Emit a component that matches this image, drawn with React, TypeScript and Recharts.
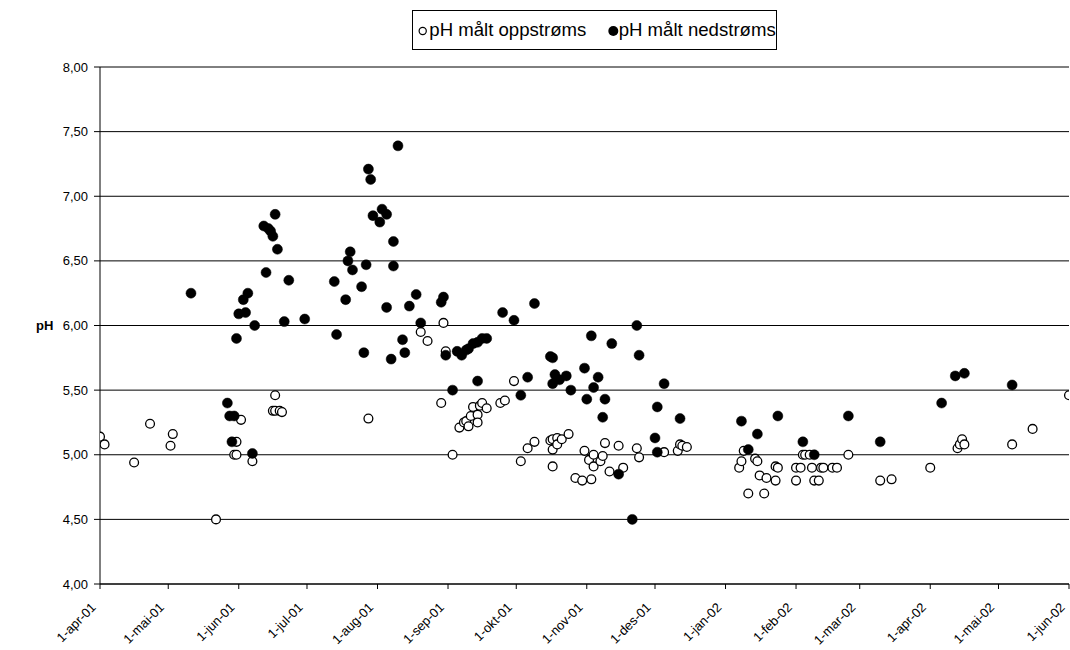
import React from 'react';
import { ScatterChart, Scatter, XAxis, YAxis, CartesianGrid } from 'recharts';

const upstreamDates = [
  '2001-04-01', '2001-04-03', '2001-04-16', '2001-04-23', '2001-05-02', '2001-05-03', '2001-05-22',
  '2001-05-30', '2001-05-31', '2001-05-31', '2001-06-02', '2001-06-07', '2001-06-16', '2001-06-17',
  '2001-06-17', '2001-06-19', '2001-06-20', '2001-07-28', '2001-08-20', '2001-08-23', '2001-08-29',
  '2001-08-30', '2001-08-31', '2001-09-03', '2001-09-06', '2001-09-08', '2001-09-09', '2001-09-10',
  '2001-09-11', '2001-09-12', '2001-09-14', '2001-09-14', '2001-09-15', '2001-09-16', '2001-09-18',
  '2001-09-24', '2001-09-26', '2001-09-30', '2001-10-03', '2001-10-06', '2001-10-09', '2001-10-16',
  '2001-10-17', '2001-10-17', '2001-10-17', '2001-10-19', '2001-10-19', '2001-10-21', '2001-10-24',
  '2001-10-27', '2001-10-30', '2001-10-31', '2001-11-02', '2001-11-03', '2001-11-04', '2001-11-04',
  '2001-11-07', '2001-11-08', '2001-11-09', '2001-11-11', '2001-11-15', '2001-11-17', '2001-11-23',
  '2001-11-24', '2001-12-05', '2001-12-11', '2001-12-12', '2001-12-13', '2001-12-15', '2002-01-07',
  '2002-01-08', '2002-01-09', '2002-01-11', '2002-01-14', '2002-01-15', '2002-01-16', '2002-01-18',
  '2002-01-19', '2002-01-23', '2002-01-23', '2002-01-24', '2002-02-01', '2002-02-01', '2002-02-03',
  '2002-02-04', '2002-02-05', '2002-02-07', '2002-02-08', '2002-02-09', '2002-02-11', '2002-02-12',
  '2002-02-13', '2002-02-17', '2002-02-19', '2002-02-24', '2002-03-10', '2002-03-15', '2002-04-01',
  '2002-04-13', '2002-04-14', '2002-04-15', '2002-04-16', '2002-05-07', '2002-05-16', '2002-06-01',
];
const upstreamPH = [
  5.14, 5.08, 4.94, 5.24, 5.07, 5.16, 4.5,
  5.0, 5.0, 5.1, 5.27, 4.95, 5.34, 5.46,
  5.34, 5.34, 5.33, 5.28, 5.95, 5.88, 5.4,
  6.02, 5.8, 5.0, 5.21, 5.25, 5.26, 5.22,
  5.3, 5.37, 5.31, 5.25, 5.38, 5.4, 5.36,
  5.4, 5.42, 5.57, 4.95, 5.05, 5.1, 5.11,
  4.91, 5.12, 5.04, 5.13, 5.08, 5.12, 5.16,
  4.82, 4.8, 5.03, 4.96, 4.81, 4.91, 5.0,
  4.95, 4.99, 5.09, 4.87, 5.07, 4.9, 5.05,
  4.98, 5.02, 5.03, 5.08, 5.07, 5.06, 4.9,
  4.95, 5.03, 4.7, 4.97, 4.95, 4.84, 4.7,
  4.82, 4.8, 4.91, 4.9, 4.8, 4.9, 4.9,
  5.0, 5.0, 5.0, 4.9, 4.8, 4.8, 4.9,
  4.9, 4.9, 4.9, 5.0, 4.8, 4.81, 4.9,
  5.05, 5.08, 5.12, 5.08, 5.08, 5.2, 5.46,
];

const downstreamDates = [
  '2001-05-11', '2001-05-27', '2001-05-28', '2001-05-29', '2001-05-30', '2001-05-31', '2001-06-01',
  '2001-06-03', '2001-06-04', '2001-06-05', '2001-06-07', '2001-06-08', '2001-06-12', '2001-06-13',
  '2001-06-14', '2001-06-15', '2001-06-16', '2001-06-17', '2001-06-18', '2001-06-21', '2001-06-23',
  '2001-06-30', '2001-07-13', '2001-07-14', '2001-07-18', '2001-07-19', '2001-07-20', '2001-07-21',
  '2001-07-25', '2001-07-26', '2001-07-27', '2001-07-28', '2001-07-29', '2001-07-30', '2001-08-02',
  '2001-08-03', '2001-08-05', '2001-08-05', '2001-08-07', '2001-08-08', '2001-08-08', '2001-08-10',
  '2001-08-12', '2001-08-13', '2001-08-15', '2001-08-18', '2001-08-20', '2001-08-29', '2001-08-30',
  '2001-08-31', '2001-09-03', '2001-09-05', '2001-09-07', '2001-09-09', '2001-09-10', '2001-09-12',
  '2001-09-14', '2001-09-14', '2001-09-16', '2001-09-18', '2001-09-25', '2001-09-30', '2001-10-03',
  '2001-10-06', '2001-10-09', '2001-10-16', '2001-10-17', '2001-10-17', '2001-10-18', '2001-10-20',
  '2001-10-23', '2001-10-25', '2001-10-31', '2001-11-01', '2001-11-03', '2001-11-04', '2001-11-06',
  '2001-11-08', '2001-11-09', '2001-11-12', '2001-11-15', '2001-11-21', '2001-11-23', '2001-11-24',
  '2001-12-01', '2001-12-02', '2001-12-02', '2001-12-05', '2001-12-12', '2002-01-08', '2002-01-11',
  '2002-01-15', '2002-01-24', '2002-02-04', '2002-02-09', '2002-02-24', '2002-03-10', '2002-04-06',
  '2002-04-12', '2002-04-16', '2002-05-07',
];
const downstreamPH = [
  6.25, 5.4, 5.3, 5.1, 5.3, 5.9, 6.09,
  6.2, 6.1, 6.25, 5.01, 6.0, 6.77, 6.41,
  6.75, 6.73, 6.69, 6.86, 6.59, 6.03, 6.35,
  6.05, 6.34, 5.93, 6.2, 6.5, 6.57, 6.43,
  6.3, 5.79, 6.47, 7.21, 7.13, 6.85, 6.8,
  6.9, 6.14, 6.86, 5.74, 6.46, 6.65, 7.39,
  5.89, 5.79, 6.15, 6.24, 6.02, 6.18, 6.22,
  5.77, 5.5, 5.8, 5.77, 5.81, 5.82, 5.86,
  5.87, 5.57, 5.9, 5.9, 6.1, 6.04, 5.46,
  5.6, 6.17, 5.76, 5.75, 5.55, 5.62, 5.58,
  5.61, 5.5, 5.67, 5.43, 5.92, 5.52, 5.6,
  5.29, 5.43, 5.86, 4.85, 4.5, 6.0, 5.77,
  5.13, 5.02, 5.37, 5.55, 5.28, 5.26, 5.04,
  5.16, 5.3, 5.1, 5.0, 5.3, 5.1, 5.4,
  5.61, 5.63, 5.54,
];

const xTickDates = [
  '2001-04-01', '2001-05-01', '2001-06-01', '2001-07-01', '2001-08-01', '2001-09-01', '2001-10-01',
  '2001-11-01', '2001-12-01', '2002-01-01', '2002-02-01', '2002-03-01', '2002-04-01', '2002-05-01',
  '2002-06-01',
];
const yTicks = [4, 4.5, 5, 5.5, 6, 6.5, 7, 7.5, 8];
const monthNames = ['jan', 'feb', 'mar', 'apr', 'mai', 'jun', 'jul', 'aug', 'sep', 'okt', 'nov', 'des'];
const seriesNames = ['pH målt oppstrøms', 'pH målt nedstrøms'];

const FONT = '"Liberation Sans", Arial, sans-serif';

const toTime = (s: string) => {
  const [y, m, d] = s.split('-').map(Number);
  return Date.UTC(y, m - 1, d);
};

const upstream = upstreamDates.map((d, i) => ({ x: toTime(d), y: upstreamPH[i] }));
const downstream = downstreamDates.map((d, i) => ({ x: toTime(d), y: downstreamPH[i] }));
const xTicks = xTickDates.map(toTime);

const fmtDate = (v: number) => {
  const dt = new Date(v);
  return `${dt.getUTCDate()}-${monthNames[dt.getUTCMonth()]}-${String(dt.getUTCFullYear()).slice(2)}`;
};

const XTick = (props: any) => {
  const { x, y, payload } = props;
  return (
    <g transform={`translate(${x - 6.5},${y + 12})`}>
      <text
        x={0}
        y={0}
        dy="0.35em"
        textAnchor="end"
        transform="rotate(-45)"
        fontSize={13}
        fontFamily={FONT}
        fill="#000"
      >
        {fmtDate(payload.value)}
      </text>
    </g>
  );
};

const OpenDot = (props: any) => {
  const { cx, cy } = props;
  return <circle cx={cx} cy={cy} r={4.4} fill="#fff" stroke="#000" strokeWidth={1.3} />;
};
const FilledDot = (props: any) => {
  const { cx, cy } = props;
  return <circle cx={cx} cy={cy} r={5} fill="#000" stroke="#000" strokeWidth={0.5} />;
};

const LegendBox = () => (
  <div
    style={{
      position: 'absolute',
      left: 412,
      top: 10,
      boxSizing: 'border-box',
      width: 365,
      height: 40,
      border: '1px solid #000',
      background: '#fff',
      fontFamily: FONT,
      fontSize: 18.6,
      color: '#000',
      whiteSpace: 'nowrap',
    }}
  >
    <svg width={365} height={38} style={{ position: 'absolute', left: -1, top: -1, overflow: 'visible' }}>
      <circle cx={10.7} cy={21} r={3.6} fill="#fff" stroke="#000" strokeWidth={1.2} />
      <circle cx={201.3} cy={21} r={5} fill="#000" />
    </svg>
    <span style={{ position: 'absolute', left: 16.3, top: 8, lineHeight: '22px' }}>{seriesNames[0]}</span>
    <span style={{ position: 'absolute', left: 205.7, top: 8, lineHeight: '22px' }}>{seriesNames[1]}</span>
  </div>
);

export default function App() {
  return (
    <div style={{ position: 'fixed', left: 0, top: 0, width: 1070, height: 650, background: '#fff', fontFamily: FONT }}>
      <ScatterChart width={1070} height={650} margin={{ top: 67, right: 1, bottom: 0, left: 0 }}>
        <CartesianGrid horizontal vertical={false} stroke="#000" strokeWidth={1} />
        <XAxis
          type="number"
          dataKey="x"
          domain={[xTicks[0], xTicks[xTicks.length - 1]]}
          ticks={xTicks}
          interval={0}
          height={66}
          tick={<XTick />}
          tickSize={5}
          tickMargin={4}
          axisLine={{ stroke: '#000' }}
          tickLine={{ stroke: '#000' }}
          allowDataOverflow
        />
        <YAxis
          type="number"
          dataKey="y"
          domain={[4, 8]}
          ticks={yTicks}
          interval={0}
          width={100}
          tickSize={6}
          tickMargin={6}
          tickFormatter={(v: number) => v.toFixed(2).replace('.', ',')}
          tick={{ fontSize: 13, fill: '#000', fontFamily: FONT }}
          axisLine={{ stroke: '#000' }}
          tickLine={{ stroke: '#000' }}
          label={{
            value: 'pH',
            position: 'insideLeft',
            offset: 36,
            style: { fontSize: 13, fontWeight: 'bold', fill: '#000', fontFamily: FONT, textAnchor: 'start' },
          }}
        />
        <Scatter name={seriesNames[0]} data={upstream} shape={<OpenDot />} isAnimationActive={false} />
        <Scatter name={seriesNames[1]} data={downstream} shape={<FilledDot />} isAnimationActive={false} />
      </ScatterChart>
      <LegendBox />
    </div>
  );
}
